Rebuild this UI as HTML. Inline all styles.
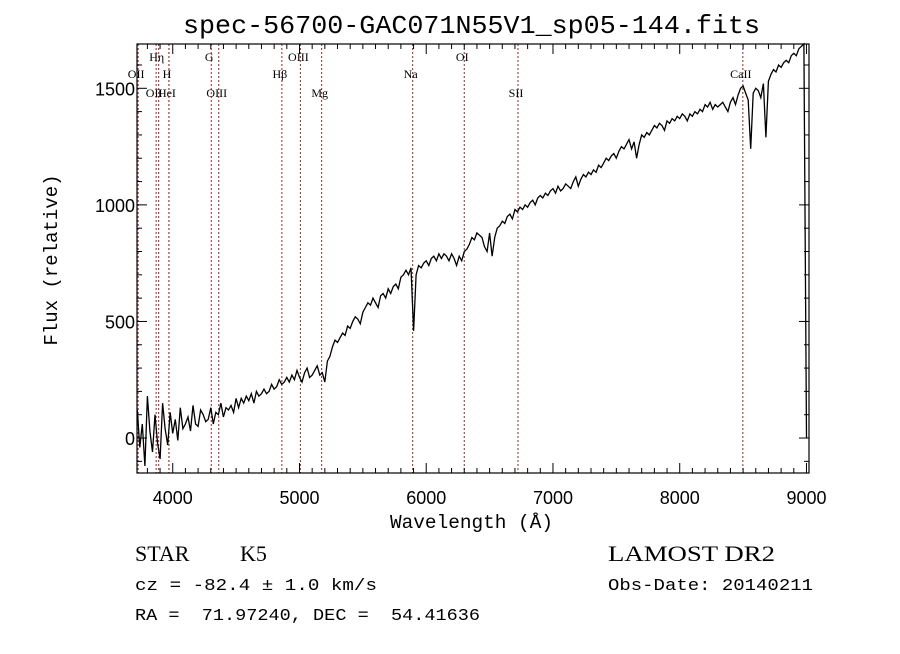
<!DOCTYPE html>
<html><head><meta charset="utf-8"><style>
body{margin:0;background:#fff;}
svg text{font-family:"Liberation Mono",monospace;fill:#000;}
</style></head><body>
<svg id="chart" width="900" height="649" xmlns="http://www.w3.org/2000/svg">
<rect width="900" height="649" fill="#fff"/>
<text x="183" y="33" font-size="26" textLength="577" lengthAdjust="spacingAndGlyphs">spec-56700-GAC071N55V1_sp05-144.fits</text>
<g id="lines"></g>
<g id="axes"></g>
<path id="spec" fill="none" stroke="#000" stroke-width="1.3"/>
<text x="390" y="528" font-size="19" textLength="163" lengthAdjust="spacingAndGlyphs">Wavelength (Å)</text>
<text transform="translate(57,260) rotate(-90)" font-size="19" text-anchor="middle">Flux (relative)</text>
<text x="135" y="561" font-size="22" style="font-family:'Liberation Serif',serif">STAR</text>
<text x="240" y="561" font-size="22" style="font-family:'Liberation Serif',serif">K5</text>
<text x="608" y="561" font-size="22" textLength="167" lengthAdjust="spacingAndGlyphs" style="font-family:'Liberation Serif',serif">LAMOST DR2</text>
<text x="135" y="590" font-size="17" textLength="242" lengthAdjust="spacingAndGlyphs">cz = -82.4 ± 1.0 km/s</text>
<text x="608" y="590" font-size="17" textLength="205" lengthAdjust="spacingAndGlyphs">Obs-Date: 20140211</text>
<text x="135" y="620" font-size="17" xml:space="preserve" textLength="345" lengthAdjust="spacingAndGlyphs">RA =  71.97240, DEC =  54.41636</text>
</svg>
<script>
const flux = [120,-40,60,-120,180,30,-60,100,-20,-90,
150,40,-30,110,20,80,-10,130,40,60,
90,30,140,60,50,120,100,70,80,130,
60,110,100,150,90,130,120,140,110,170,
130,170,150,180,160,190,150,200,180,190,
210,190,200,230,210,220,250,230,240,260,
240,270,250,290,260,240,280,300,260,270,
290,310,270,280,240,330,350,390,420,410,
430,450,440,480,470,500,520,510,490,540,
560,580,570,600,580,560,610,620,600,640,
620,650,660,640,690,700,720,700,730,460,
700,740,730,750,760,740,770,780,760,790,
770,790,780,760,790,770,740,780,760,800,
810,830,860,850,880,870,860,820,800,880,
780,860,900,910,930,920,950,960,940,980,
970,990,980,1000,990,1010,1020,1000,1030,1040,
1030,1050,1040,1060,1070,1050,1080,1060,1070,1090,
1080,1070,1100,1120,1080,1110,1130,1120,1140,1130,
1150,1140,1170,1160,1180,1200,1190,1210,1220,1200,
1230,1250,1240,1260,1280,1240,1270,1200,1260,1300,
1290,1310,1300,1320,1340,1330,1350,1340,1320,1360,
1350,1370,1360,1380,1370,1390,1380,1360,1390,1380,
1400,1390,1410,1400,1430,1420,1440,1410,1430,1420,
1430,1440,1420,1400,1440,1460,1430,1470,1500,1510,
1480,1450,1240,1480,1500,1490,1460,1520,1290,1530,
1560,1580,1570,1600,1590,1610,1620,1610,1640,1650,
1640,1670,1680,1690,0];
const waveStart = 3720;
const waveStep = 20;
const xTicks = [4000,5000,6000,7000,8000,9000];
const yTicks = [0,500,1000,1500];
const lineNames = ["OII","OII","Hη","HeI","H","G","OIII","Hβ","OIII","Mg","Na","OI","SII","CaII"];
const lineWaves = [3727,3869,3889,3970,3970,4304,4363,4861,5007,5175,5893,6300,6724,8498];
const lineRows = [1,2,0,2,1,0,2,1,0,2,1,0,2,1];

const L=137,R=809,T=44,B=473;
const X0=3718,X1=9020,Y0=-150,Y1=1690;
const sx=w=>L+(w-X0)/(X1-X0)*(R-L);
const sy=f=>B-(f-Y0)/(Y1-Y0)*(B-T);
const NS="http://www.w3.org/2000/svg";
function mk(tag,attrs,parent){const e=document.createElementNS(NS,tag);for(const k in attrs)e.setAttribute(k,attrs[k]);parent.appendChild(e);return e;}

const lg=document.getElementById('lines');
const rowY=[61,78,97];
lineWaves.forEach((w,i)=>{
  const x=sx(w);
  const ln=mk('line',{x1:x,x2:x,y1:T,y2:B,stroke:'#8b2a2a','stroke-width':1,'stroke-dasharray':'2,2'},lg);
  
  
  const t=mk('text',{x:x-2,y:rowY[lineRows[i]],'font-size':12,'text-anchor':'middle',style:"font-family:'Liberation Serif',serif"},lg);
  t.textContent=lineNames[i];
  
  
});

const ag=document.getElementById('axes');
const box=mk('rect',{x:L,y:T,width:R-L,height:B-T,fill:'none',stroke:'#000','stroke-width':1.2},ag);


for(let w=3800;w<=9000;w+=100){
  const x=sx(w);const maj=w%1000===0;const len=maj?10:5;
  mk('line',{x1:x,x2:x,y1:B,y2:B-len,stroke:'#000'},ag);
  mk('line',{x1:x,x2:x,y1:T,y2:T+len,stroke:'#000'},ag);
}
xTicks.forEach(w=>{
  const t=mk('text',{x:sx(w),y:B+31,'font-size':18,'text-anchor':'middle',style:"font-family:'Liberation Sans',sans-serif"},ag);
  t.textContent=w;
  
  
});
for(let f=-100;f<=1600;f+=100){
  const y=sy(f);const maj=f%500===0;const len=maj?10:5;
  mk('line',{x1:L,x2:L+len,y1:y,y2:y,stroke:'#000'},ag);
  mk('line',{x1:R,x2:R-len,y1:y,y2:y,stroke:'#000'},ag);
}
yTicks.forEach(f=>{
  const t=mk('text',{x:L-2,y:sy(f)+7,'font-size':18,'text-anchor':'end',style:"font-family:'Liberation Sans',sans-serif"},ag);
  t.textContent=f;
  
  
});

let d='';
flux.forEach((f,i)=>{const w=waveStart+i*waveStep;d+=(i?'L':'M')+sx(w).toFixed(1)+','+sy(f).toFixed(1);});
document.getElementById('spec').setAttribute('d',d);
</script>
</body></html>
